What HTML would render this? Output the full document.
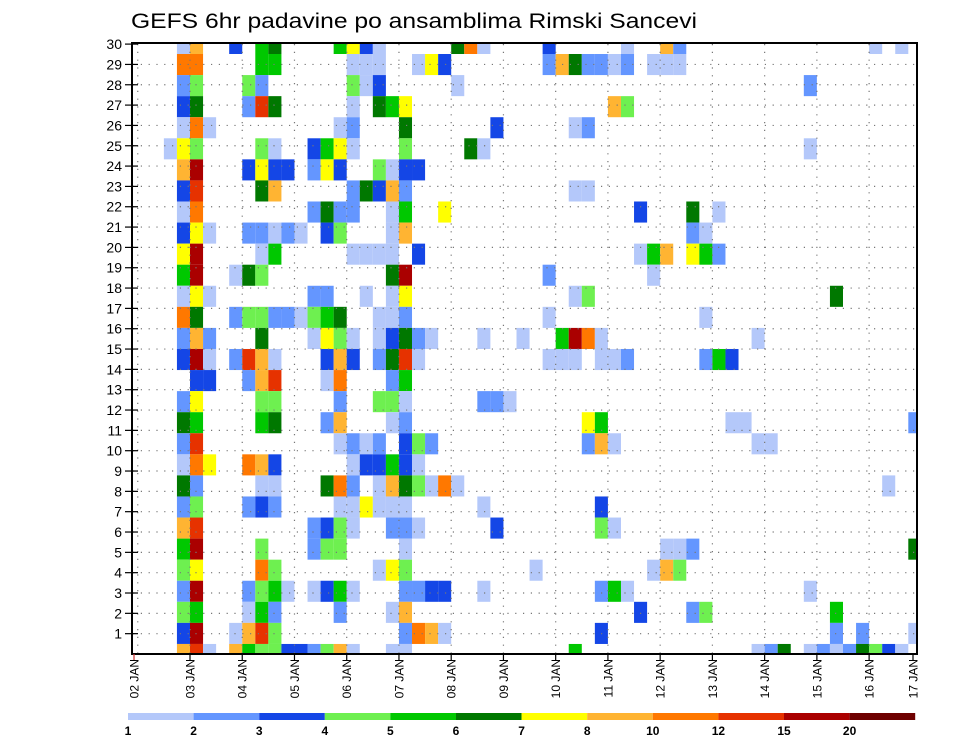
<!DOCTYPE html>
<html><head><meta charset="utf-8"><style>
html,body{margin:0;padding:0;background:#fff;}
svg{display:block;font-family:"Liberation Sans",sans-serif;}
</style></head><body>
<svg id="chart" width="960" height="742" viewBox="0 0 960 742" xmlns="http://www.w3.org/2000/svg">
<defs><clipPath id="plotclip"><rect x="132" y="43" width="785" height="611"/></clipPath></defs>
<rect width="960" height="742" fill="#fff"/>
<text x="131" y="28" font-size="21" textLength="566" lengthAdjust="spacingAndGlyphs" fill="#000">GEFS 6hr padavine po ansamblima Rimski Sancevi</text>
<g id="cells" clip-path="url(#plotclip)"></g>
<g id="grid"></g>
<g id="axes"></g>
<g id="legend"></g>
</svg>
<script>
// ---- data ----
const levelCodes = ['a','b','c','d','e','f','g','h','i','j','k','l'];
const levelValues = [1.5,2.5,3.5,4.5,5.5,6.5,7.5,9,11,13.5,17,25];
const thresholds = [1,2,3,4,5,6,7,8,10,12,15,20];
const thresholdLabels = ['1','2','3','4','5','6','7','8','10','12','15','20'];
const colors = ['#b4c8fa','#6496ff','#1446e6','#6ef050','#00c800','#007800','#ffff00','#ffb432','#ff7800','#e63200','#aa0000','#6e0000'];
const dayLabels = ['02 JAN','03 JAN','04 JAN','05 JAN','06 JAN','07 JAN','08 JAN','09 JAN','10 JAN','11 JAN','12 JAN','13 JAN','14 JAN','15 JAN','16 JAN','17 JAN'];
const memberTicks = [1,2,3,4,5,6,7,8,9,10,11,12,13,14,15,16,17,18,19,20,21,22,23,24,25,26,27,28,29,30];
// one string per ensemble band (top to bottom); "k<code>" = 6-hr step index + level code
const bands = [
"4a 5h 8c 10e 11f 16e 17g 18c 19a 25f 26i 27a 32c 38a 41h 42b 57a 59a",
"4i 5i 10e 11e 17a 18a 19a 22a 23g 24c 32b 33h 34f 35b 36b 37a 38b 40a 41a 42a",
"4b 5d 9d 10b 17d 18a 19c 25a 52b",
"4c 5f 9b 10j 11f 17a 19f 20e 21g 37h 38d",
"4a 5i 6a 16a 17b 21f 28c 34a 35b",
"3a 4g 5d 10d 11a 14c 15e 16g 17a 21d 26f 27a 52a",
"4h 5k 9c 10g 11c 12c 14b 15g 16c 19d 20a 21c 22c",
"4c 5j 10f 11h 17b 18f 19c 20h 21b 34a 35a",
"4a 5i 14b 15f 16b 17b 20a 21e 24g 39c 43f 45a",
"4c 5g 6a 9b 10b 11a 12b 13a 15c 16d 20a 21h 43b 44a",
"4g 5k 10a 11e 17a 18a 19a 20a 22c 39a 40e 41h 43g 44e 45b",
"4e 5k 8a 9f 10d 20f 21k 32b 40a",
"4a 5g 6a 14b 15b 18a 20a 21g 34a 35d 54f",
"4i 5f 8b 9d 10d 11b 12b 13a 14d 15e 16f 19a 20a 21b 32a 44a",
"4b 5h 6b 10f 14a 15g 16d 17a 19a 20c 21f 22b 23a 27a 30a 33e 34k 35i 36a 48a",
"4c 5k 6a 8b 9j 10h 11a 15c 16h 17c 19b 20f 21j 22a 32a 33a 34a 36a 37a 38b 44b 45e 46c",
"5c 6c 9b 10h 11j 15a 16i 20b 21e",
"4b 5g 10d 11d 16b 19d 20d 21a 27b 28b 29a",
"4f 5e 10e 11f 15b 16h 20a 21b 35g 36e 46a 47a 60b",
"4b 5j 16a 17b 18a 19b 21c 22d 23b 35b 36h 37a 48a 49a",
"4a 5i 6g 9i 10h 11c 17a 18c 19c 20e 21c 22a",
"4f 5b 10a 11a 15f 16i 17b 19a 20h 21f 22d 23a 24i 25a 58a",
"4b 5d 9b 10c 11b 16a 17a 18g 19a 20a 21a 27a 36c",
"4h 5j 14b 15c 16d 17a 20b 21b 22a 28c 36d 37a",
"4e 5k 10d 14b 15d 16d 21a 41a 42a 43b 60f",
"4d 5g 10i 11d 19a 20g 21d 31a 40a 41h 42d",
"4b 5k 9b 10d 11e 12a 14a 15c 16e 17a 21b 22b 23c 24c 27a 36b 37e 38a 52a",
"4d 5e 9a 10e 11b 16b 20a 21h 39c 43b 44d 54e",
"4c 5k 8a 9h 10j 11d 21b 22i 23h 24a 36c 54b 56b 60a",
"4h 5j 6a 8h 9e 10d 11d 12c 13c 14b 15d 16h 17a 20a 21a 34e 48a 49b 50f 52a 53b 54a 55b 56f 57d 58c 59a"
];
// ---- scales ----
const NS='http://www.w3.org/2000/svg';
const CELL=13.06;
function xStep(k){return 190+CELL*(k-5);}
function xDay(i){return 190+CELL*4*(i-1);}
function yBand(i){return 54+(i-1)*21.07;}
function yTick(r){return 654-20.33*r;}
function colorFor(v){let c=0;for(let i=0;i<thresholds.length;i++){if(v>=thresholds[i])c=i;}return colors[c];}
function mk(tag,attrs,parent){const e=document.createElementNS(NS,tag);for(const k in attrs)e.setAttribute(k,attrs[k]);parent.appendChild(e);return e;}
const gCells=document.getElementById('cells');
bands.forEach((s,bi)=>{
  s.split(' ').forEach(tok=>{
    const k=parseInt(tok,10);const code=tok.replace(/[0-9]/g,'');
    const v=levelValues[levelCodes.indexOf(code)];
    const r=mk('rect',{x:xStep(k).toFixed(2),y:yBand(bi).toFixed(2),width:CELL.toFixed(2),height:'21.07',fill:colorFor(v)},gCells);
    
    
  });
});
// grid
const gGrid=document.getElementById('grid');
memberTicks.forEach(r=>{
  if(r>=30)return;
  const l=mk('line',{x1:133,x2:916,y1:yTick(r),y2:yTick(r),stroke:'#777','stroke-width':1.2,'stroke-dasharray':'1.2 6.6'},gGrid);
  
  
});
dayLabels.forEach((d,i)=>{
  const x=xDay(i);if(x<=133||x>=916)return;
  const l=mk('line',{x1:x,x2:x,y1:44,y2:653,stroke:'#777','stroke-width':1.2,'stroke-dasharray':'1.2 6.6'},gGrid);
  
  
});
// axes
const gAx=document.getElementById('axes');
const frame=mk('rect',{x:132,y:43,width:785,height:611,fill:'none',stroke:'#000','stroke-width':2},gAx);


memberTicks.forEach(r=>{
  const y=yTick(r);
  const t=mk('line',{x1:125,x2:138,y1:y,y2:y,stroke:'#000','stroke-width':1.2},gAx);
  
  
  const tx=mk('text',{x:122,y:y+5,'font-size':14,'text-anchor':'end',fill:'#000'},gAx);
  tx.textContent=String(r);
  
  
});
dayLabels.forEach((d,i)=>{
  let x=xDay(i);
  if(i===0)x=134; if(i===dayLabels.length-1)x=913;
  const t=mk('line',{x1:x,x2:x,y1:654,y2:661,stroke:i===0?'#c33':'#000','stroke-width':1.2},gAx);
  
  
  const tx=mk('text',{x:0,y:0,'font-size':12,'text-anchor':'end',fill:'#000',transform:'translate('+(x+4.5)+',659) rotate(-90)'},gAx);
  tx.textContent=d;
  
  
});
// legend
const gLeg=document.getElementById('legend');
const segW=65.6;
colors.forEach((c,i)=>{
  const r=mk('rect',{x:(128+segW*i).toFixed(1),y:713,width:segW.toFixed(1),height:7,fill:c},gLeg);
  
  
  const t=mk('text',{x:(128+segW*i).toFixed(1),y:735,'font-size':12,'font-weight':'bold','text-anchor':'middle',fill:'#000'},gLeg);
  t.textContent=thresholdLabels[i];
  
  
});
</script>
</body></html>
